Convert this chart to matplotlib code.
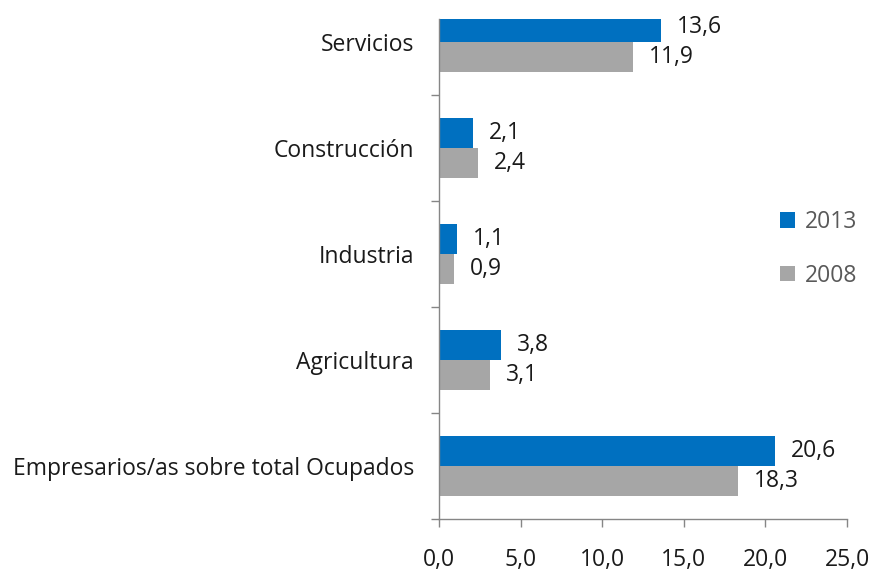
import matplotlib
matplotlib.use("Agg")
import matplotlib.pyplot as plt
import numpy as np
from matplotlib.ticker import FixedLocator, FuncFormatter

categories = ["Empresarios/as sobre total Ocupados", "Agricultura", "Industria", "Construcción", "Servicios"]
vals_2013 = [20.6, 3.8, 1.1, 2.1, 13.6]
vals_2008 = [18.3, 3.1, 0.9, 2.4, 11.9]
series_names = ["2013", "2008"]
xticks = [0, 5, 10, 15, 20, 25]

BLUE = "#0070C0"
GRAY = "#A6A6A6"
AXC = "#868686"
FONT = "Open Sans"
FS = 16.5

fig = plt.figure(figsize=(8.74, 5.72), dpi=100)
ax = fig.add_axes([439/874, (572-519)/572, 408/874, 500/572])

y = np.arange(len(categories))
h = 0.285
b1 = ax.barh(y + h/2, vals_2013, height=h, color=BLUE, label=series_names[0])
b2 = ax.barh(y - h/2, vals_2008, height=h, color=GRAY, label=series_names[1])

fmt = lambda v: f"{v:.1f}".replace(".", ",")
for bars, vals in ((b1, vals_2013), (b2, vals_2008)):
    for bar, v in zip(bars, vals):
        ax.annotate(fmt(v), (v, bar.get_y() + bar.get_height()/2), xytext=(11.5, 0),
                    textcoords="offset points", ha="left", va="center",
                    fontsize=FS, family=FONT, color="#1a1a1a")

ax.set_xlim(0, 25)
ax.set_ylim(-0.5, 4.22)
ax.set_xticks(xticks)
ax.xaxis.set_major_formatter(FuncFormatter(lambda v, p: fmt(v)))
ax.set_yticks(y)
ax.set_yticklabels(categories)
ax.yaxis.set_minor_locator(FixedLocator(np.arange(-0.5, len(categories), 1.0)))
ax.tick_params(axis="y", which="major", length=0, pad=18)
ax.tick_params(axis="y", which="minor", length=6, color=AXC, width=1)
ax.tick_params(axis="x", which="major", length=6, color=AXC, width=1, pad=15)
for lab in ax.get_xticklabels() + ax.get_yticklabels():
    lab.set_fontsize(FS)
    lab.set_family(FONT)
    lab.set_color("#1a1a1a")

for s in ("top", "right"):
    ax.spines[s].set_visible(False)
for s in ("left", "bottom"):
    ax.spines[s].set_color(AXC)
    ax.spines[s].set_linewidth(1)

leg = ax.legend(loc="center left", bbox_to_anchor=(0.785, 0.54), frameon=False,
                prop={"family": FONT, "size": FS}, handlelength=0.65, handleheight=0.65,
                handletextpad=0.45, labelspacing=1.3, labelcolor="#595959")

fig.savefig("out.png", dpi=100, facecolor="white")
